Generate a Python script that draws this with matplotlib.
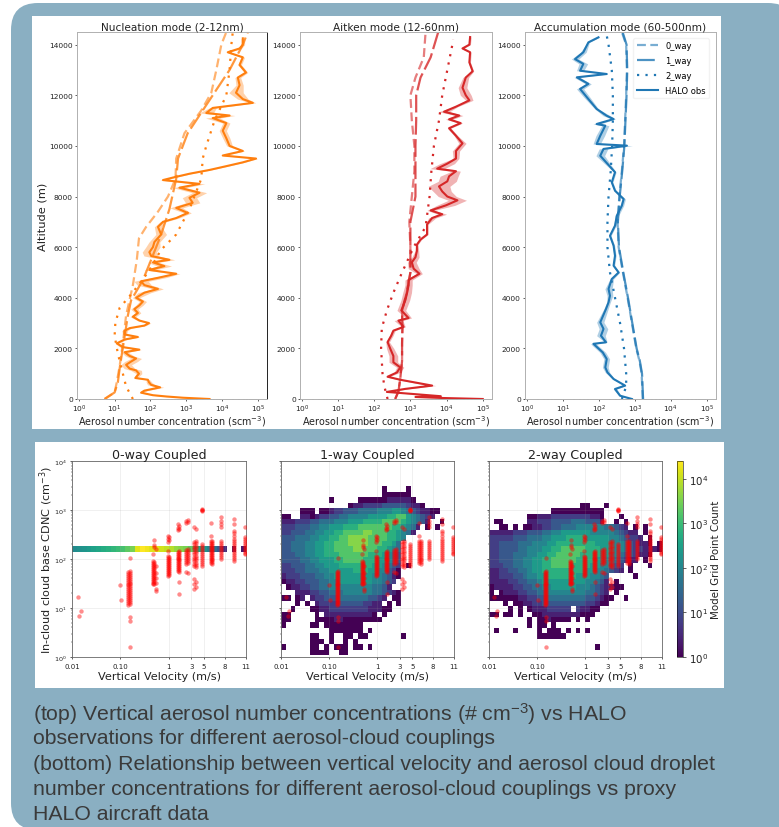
import numpy as np
import matplotlib
matplotlib.use('Agg')
import matplotlib.pyplot as plt
from matplotlib.colors import LogNorm
from matplotlib.patches import FancyBboxPatch, Rectangle

W, H = 779, 828

# ---- top row: (altitude m, log10 conc, log10 spread)
nuc_obs = [(0,3.65,.05),(50,2.91,.05),(100,2.44,.05),(150,2.07,.05),(250,1.74,.05),(330,1.83,.08),(460,2.27,.1),(560,2.02,.1),
    (660,1.96,.08),(760,1.93,.05),(830,1.58,.05),(1000,1.68,.08),(1130,1.60,.15),(1200,1.42,.15),(1350,1.32,.15),(1480,1.46,.18),
    (1600,1.60,.15),(1700,1.42,.12),(1850,1.28,.1),(1950,1.69,.05),(2050,1.23,.08),(2200,1.06,.05),(2350,1.28,.05),(2450,1.65,.05),
    (2550,1.28,.05),(2700,1.28,.08),(2800,1.42,.05),(2900,1.83,.05),(3000,1.96,.05),(3100,1.69,.05),(3250,1.51,.08),(3400,1.65,.08),
    (3550,1.55,.1),(3700,1.69,.1),(3850,1.79,.1),(4000,1.60,.1),(4200,1.83,.18),(4350,2.21,.15),(4500,1.83,.2),(4650,1.74,.2),
    (4800,2.25,.2),(4950,2.72,.1),(5100,1.97,.15),(5250,2.39,.2),(5400,2.07,.15),(5500,2.53,.15),(5650,2.02,.2),(5800,1.97,.2),
    (6000,2.07,.2),(6200,2.11,.15),(6500,2.30,.15),(6800,2.21,.1),(7000,2.35,.08),(7150,2.72,.08),(7350,3.04,.1),(7550,2.72,.18),
    (7750,3.18,.2),(7950,3.09,.2),(8150,3.37,.2),(8350,2.81,.18),(8500,3.37,.15),(8650,2.35,.08),(8750,2.63,.05),(8900,3.09,.05),
    (9050,3.65,.05),(9200,4.12,.05),(9350,4.58,.05),(9500,4.95,.05),(9620,4.02,.05),(9800,4.58,.05),(10000,4.21,.08),(10300,4.12,.1),
    (10600,4.02,.1),(10900,4.12,.1),(11100,3.74,.2),(11200,4.21,.15),(11300,3.56,.2),(11500,3.74,.1),(11700,4.86,.08),(11850,4.58,.15),
    (12100,4.39,.2),(12400,4.49,.1),(12700,4.44,.08),(12900,4.67,.05),(13200,4.49,.05),(13500,4.58,.05),(13700,4.16,.05),(13850,4.49,.05),
    (14000,4.58,.05),(14250,4.58,.05)]
nuc_0way = [(0,.72),(260,1.0),(660,1.06),(1300,1.14),(2200,1.23),(3300,1.32),(4500,1.51),(5500,1.62),(6350,1.68),(6800,1.88),
    (7400,2.21),(8000,2.49),(8700,2.70),(9500,2.72),(10500,2.95),(11400,3.42),(12100,3.70),(13000,3.84),(14000,3.98),(14500,4.12)]
nuc_1way = [(0,.72),(260,1.0),(660,1.09),(1300,1.15),(2200,1.25),(3300,1.37),(3900,1.46),(4700,1.79),(5500,2.02),(6500,2.30),
    (7500,2.53),(8700,2.72),(9500,2.77),(10500,3.04),(11400,3.46),(12300,3.88),(13000,4.21),(14000,4.58),(14500,4.72)]
nuc_2way = [(0,1.51),(500,1.32),(1000,1.23),(1800,1.09),(2500,1.0),(3000,1.02),(3600,1.14),(4200,1.5),(5000,1.93),(5900,2.3),
    (6500,2.72),(7500,3.09),(8700,3.42),(9500,3.46),(10000,3.56),(11000,3.79),(12000,4.12),(13000,4.21),(14000,4.26),(14500,4.3)]

ait_obs = [(0,5.0,.03),(40,3.88,.05),(80,3.14,.05),(110,3.84,.05),(170,3.32,.05),(280,2.35,.05),(400,2.86,.08),(530,3.60,.1),
    (650,3.14,.08),(760,2.72,.05),(880,2.37,.05),(1050,2.63,.08),(1250,2.72,.1),(1450,2.53,.12),(1700,2.53,.12),(2000,2.44,.1),
    (2250,2.37,.05),(2500,2.47,.05),(2700,2.53,.05),(2850,2.81,.05),(3100,2.67,.12),(3200,2.95,.08),(3500,2.75,.12),(3900,2.86,.12),
    (4200,2.91,.12),(4500,2.95,.1),(4700,2.95,.1),(4950,3.25,.08),(5150,3.09,.15),(5400,3.04,.12),(5600,3.14,.1),(5850,3.18,.05),
    (6100,3.18,.03),(6300,3.28,.03),(6500,3.46,.03),(6900,3.46,.03),(7150,3.60,.1),(7300,3.88,.12),(7450,3.56,.1),(7650,3.98,.25),
    (7850,4.30,.25),(8000,4.02,.25),(8200,3.88,.25),(8400,3.79,.3),(8600,4.02,.25),(8800,4.07,.25),(9000,4.26,.12),(9100,3.74,.2),
    (9300,4.02,.2),(9500,4.26,.08),(9800,4.26,.1),(10100,4.44,.1),(10400,4.26,.05),(10700,4.07,.05),(10900,4.39,.05),(11050,4.07,.1),
    (11200,4.35,.1),(11350,3.93,.15),(11550,4.26,.05),(11800,4.63,.1),(12000,4.53,.15),(12300,4.44,.12),(12700,4.53,.08),(12950,4.72,.03),
    (13300,4.63,.03),(13700,4.65,.03),(13850,4.44,.03),(14000,4.63,.03),(14300,4.65,.03)]
ait_0way = [(0,2.58),(300,2.67),(800,2.72),(1500,2.77),(2200,2.77),(2800,2.78),(3500,2.77),(4200,2.9),(5000,3.0),(6000,3.0),
    (7000,2.97),(8000,3.04),(9000,3.11),(10000,3.11),(11000,3.04),(12000,3.0),(12700,3.14),(13500,3.37),(14500,3.42)]
ait_1way = [(0,2.58),(300,2.67),(800,2.72),(1500,2.77),(2200,2.77),(2800,2.78),(3500,2.77),(4200,2.9),(5000,3.0),(6000,3.0),
    (7000,3.0),(8000,3.14),(9000,3.14),(10000,3.14),(11000,3.16),(12000,3.16),(12700,3.28),(13500,3.56),(14500,3.77)]
ait_2way = [(0,2.37),(500,2.28),(1000,2.23),(2000,2.19),(2800,2.21),(3500,2.35),(4200,2.53),(5000,2.77),(6000,3.09),(6800,3.42),
    (8000,3.53),(9000,3.58),(10000,3.65),(11000,3.79),(12000,3.88),(13000,4.02),(14000,4.16),(14200,4.18)]

acc_obs = [(0,2.92,.03),(130,2.59,.03),(395,2.45,.05),(530,2.73,.03),(790,2.41,.03),(1050,2.24,.06),(1250,2.18,.08),(1580,2.22,.08),
    (1840,2.11,.08),(2180,1.85,.08),(2240,2.2,.03),(2500,2.06,.12),(2770,2.13,.12),(3030,2.04,.1),(3560,2.2,.06),(3820,2.27,.05),
    (4080,2.31,.08),(4350,2.27,.1),(4740,2.36,.05),(5000,2.55,.03),(5270,2.41,.03),(5660,2.45,.03),(6060,2.41,.03),(6450,2.31,.03),
    (6850,2.45,.03),(7240,2.5,.05),(7640,2.64,.05),(7900,2.69,.05),(8230,2.45,.03),(8560,2.36,.03),(8960,2.45,.03),(9610,2.04,.12),
    (9880,2.13,.12),(10010,2.78,.15),(10075,1.94,.1),(10400,2.04,.12),(10800,2.18,.1),(10865,1.94,.1),(11060,2.41,.05),(11190,2.22,.1),
    (11460,1.94,.05),(11850,1.71,.08),(12250,1.48,.1),(12450,1.71,.08),(12710,1.39,.08),(12840,2.22,.03),(12970,1.48,.1),(13240,1.57,.12),
    (13430,1.34,.1),(13700,1.57,.08),(14090,1.71,.03),(14290,1.99,.03)]
acc_0way = [(0,3.22),(1000,3.19),(1500,3.13),(2000,3.04),(3000,2.92),(4000,2.8),(5000,2.67),(6000,2.55),(7000,2.52),(8000,2.57),
    (9000,2.64),(10000,2.7),(11000,2.73),(12000,2.76),(13000,2.78),(14000,2.76),(14500,2.64)]
acc_1way = [(0,3.23),(1000,3.2),(1500,3.14),(2000,3.05),(3000,2.93),(4000,2.81),(5000,2.68),(6000,2.56),(7000,2.53),(8000,2.58),
    (9000,2.65),(10000,2.71),(11000,2.74),(12000,2.77),(13000,2.79),(14000,2.77),(14500,2.66)]
acc_2way = [(0,2.64),(500,2.76),(1000,2.76),(2000,2.7),(3000,2.59),(4000,2.45),(5000,2.31),(6000,2.24),(7000,2.24),(8000,2.27),
    (9000,2.33),(10000,2.37),(11000,2.39),(12000,2.39),(13000,2.36),(14000,2.27),(14500,2.2)]

top_titles = ['Nucleation mode (2-12nm)', 'Aitken mode (12-60nm)', 'Accumulation mode (60-500nm)']
top_colors = ['tab:orange', 'tab:red', 'tab:blue']

# ---- bottom row
v_ticks = [0.01, 0.1, 1, 3, 5, 8, 11]
v_labels = ['0.01', '0.10', '1', '3', '5', '8', '11']
v_pos = [0, 1, 2, 2.47, 2.73, 3.16, 3.6]

# log10 count per bin along the single CDNC row of the 0-way run
zero_way_row = 16
zero_way_counts = [2.1,2.2,2.3,2.4,2.5,2.6,2.7,2.8,2.9,3.0,3.1,3.3,3.5,4.2,4.4,4.3,4.2,4.2,4.1,4.0,3.9,3.7,3.6,3.5,
                   3.3,3.0,2.6,2.3,1.9,1.6,1.2,0.6,np.nan,0.4,np.nan,0.3]

# one char per bin: digit d means log10(count) = 0.4*d, dot is an empty bin. top row first
one_way = ["", "", "", "", "",
    ".....................0....0",
    ".....................000000",
    "..........0.....000000111110",
    "..............0112222333332110",
    "....000.0012233344445556654321100",
    "00..1101223344555566667788654321",
    "1112223344455566677778888765431..0",
    "22233344556667778888888776541.0.0",
    "2233344556677888899888776541",
    "33344455667788999988887765",
    "3344455667788899998887764",
    "3344455667788889988877654",
    "3334455667778888887776543",
    "3333445566677888877766543",
    "2233344556667777777665432.0",
    "2223344455666667776655320",
    "1222333445566666666554310",
    "011223334455666666655432",
    ".0112233445555555554431",
    "...1112233444555555443210",
    "00.01.1223334444443321.00",
    "...0.0.12222333332211.0.0",
    "..0...00112222222211100",
    "00.....0.11111111110.0",
    "00.....00001100000000",
    "0.....00.00000000",
    "..........0000000.0",
    "......00..0..00.00.......0",
    "......000.0..0.0",
    "0.....00.0.000.00.0",
    "......0000..00",
    ""]
two_way = ["", "", "", "", "", "", "", "",
    "...................00...0",
    ".............00000000000",
    "........0011122222222110...0",
    ".00.....1122233334443331..0.0",
    "..00.0.0011223344455555544321.0.0",
    "1111122233344556666665555543211.0",
    "22222333444556667777666665543221.0",
    "2233334445556677777777666655432110.0",
    "223333445556677888887776665543221110",
    "2233344455667788888777766554332110",
    "2233344556677888887777665543211.0",
    "2223344556677888877776655432.0...0",
    "1122334456677777777766554321.0",
    "1122233455667777776665543.....0",
    "1111223344566666666655431.0",
    "0111122334455666665554321100",
    "0.01112233445555555544321.0",
    "00000011223344444444332100..0",
    "...0.00112233333333322100",
    "....0.0.011122222.21100",
    "00.00.0..0011111111000",
    "........0.0010000.0.0",
    "........0.00.0",
    ".0...0....0.000.0.0.0",
    "..........000000",
    "",
    "......................0",
    "", ""]

# proxy HALO points: vertical velocity -> log10 CDNC values
halo_columns = {
    0.013: [1.23],
    0.014: [0.83],
    0.015: [0.94],
    0.10: [1.46],
    0.105: [1.17],
    0.145: [1.74,1.70,1.66,1.62,1.58,1.54,1.50,1.46,1.42,1.38,1.34,1.30,1.26,1.22,1.18,1.14,1.10,1.06],
    0.155: [2.03,1.76,1.72,1.68,1.64,1.60,1.56,1.52,1.48,1.44,1.40,1.36,1.32,1.28,1.24,1.20,1.16,1.12,1.08,0.81,0.73,0.2],
    0.48: [2.10,1.96,1.92,1.88,1.84,1.80,1.76,1.72,1.68,1.64,1.60,1.56,1.52,1.48],
    0.5: [2.39,2.24,2.28,1.94,1.90,1.86,1.82,1.78,1.74,1.70,1.66,1.62,1.58,1.54,1.50],
    0.54: [2.20,1.85,1.72,1.62,1.51,1.38,1.35],
    0.95: [2.46,2.41,2.35,2.17,2.06,2.02,1.98,1.94,1.90,1.86,1.82,1.78,1.74,1.70,1.66],
    1.0: [2.44,2.38,2.04,2.00,1.96,1.92,1.88,1.84,1.80,1.76,1.72,1.68],
    1.55: [2.71,2.64,2.60,2.15,2.11,2.07,2.03,1.99,1.95,1.91,1.87,1.83,1.79,1.75],
    1.65: [2.68,2.62,2.17,2.13,2.09,2.05,2.01,1.97,1.93,1.89,1.85,1.81,1.77,1.73,1.53,1.29],
    2.3: [2.78,2.74,2.18,2.14,2.10,2.06,2.02,1.98,1.94,1.90,1.73],
    2.5: [2.80,2.75,2.20,2.16,2.12,2.08,2.04,2.00,1.96,1.92,1.71],
    3.35: [2.66,2.35,2.30,2.25,2.20,2.15,2.10,2.05,2.00,1.95,1.90,1.85,1.59,1.48,1.39],
    3.55: [2.61,2.37,2.32,2.27,2.22,2.17,2.12,2.07,2.02,1.97,1.92,1.87,1.83,1.54,1.43],
    4.6: [3.0,3.02,2.98,3.01,2.3,2.26,2.22,2.18,2.14,2.10,2.06,2.02,1.98,1.94,1.90,1.86],
    5.85: [2.73,2.47,2.36,2.32,2.28,2.24,2.20,2.16,2.12,2.08,2.04,2.00,1.96,1.92],
    6.05: [2.37,2.33,2.29,2.25,2.21,2.17,2.13,2.09,2.05,2.01,1.97,1.93,1.90],
    7.4: [2.85,2.78,2.72,2.66,2.37,2.33,2.29,2.25,2.21,2.17,2.13,2.09,2.05,2.0],
    9.2: [2.82,2.72,2.58,2.53,2.47,2.4,2.36,2.32,2.28,2.24,2.2,2.16,2.12,2.08,2.04,2.0,1.96],
    10.8: [2.66,2.44,2.4,2.36,2.32,2.28,2.24,2.2,2.16,2.12,2.1],
}

plt.rcParams['mathtext.default'] = 'regular'


def fwd(v):
    return np.interp(np.log10(np.maximum(v, 1e-9)), np.log10(v_ticks), v_pos)


def inv(p):
    return 10 ** np.interp(p, v_pos, np.log10(v_ticks))


def ax_px(x0, y0, x1, y1):
    return fig.add_axes([x0 / W, 1 - y1 / H, (x1 - x0) / W, (y1 - y0) / H])


def parse_rows(rows):
    out = np.full((37, 36), np.nan)
    for r, row in enumerate(rows):
        for c, ch in enumerate(row):
            if ch != '.':
                out[r, c] = 10 ** (0.4 * int(ch))
    return out


fig = plt.figure(figsize=(W / 100, H / 100), dpi=100, facecolor='white')

bg = fig.add_axes([0, 0, 1, 1])
bg.set_xlim(0, W)
bg.set_ylim(H, 0)
bg.axis('off')
bg.add_patch(FancyBboxPatch((11, 4), 784, 827, boxstyle='round,pad=0,rounding_size=27', fc='#8aafc2', ec='none'))
bg.add_patch(Rectangle((32, 17), 689, 413, fc='white', ec='none'))
bg.add_patch(Rectangle((35, 443), 689, 246, fc='white', ec='none'))

# ---- top row
top_boxes = [(77, 33, 267, 400), (300, 33, 492, 400), (525, 33, 716, 400)]
top_sets = [(nuc_obs, nuc_0way, nuc_1way, nuc_2way), (ait_obs, ait_0way, ait_1way, ait_2way),
            (acc_obs, acc_0way, acc_1way, acc_2way)]
for i, (box, sets) in enumerate(zip(top_boxes, top_sets)):
    ax = ax_px(*box)
    col = top_colors[i]
    obs = np.array(sets[0]).T
    for data, ls, name, a in zip(sets[1:], [(0, (4, 2)), (0, (8, 2)), (0, (1, 2.8))],
                                 ['0_way', '1_way', '2_way'], [0.6, 0.8, 1]):
        d = np.array(data).T
        ax.plot(10 ** d[1], d[0], color=col, lw=1.6, ls=ls, alpha=a, label=name)
    ax.fill_betweenx(obs[0], 10 ** (obs[1] - obs[2]), 10 ** (obs[1] + obs[2]), color=col, alpha=0.35, lw=0)
    ax.plot(10 ** obs[1], obs[0], color=col, lw=1.5, label='HALO obs')
    ax.set_xscale('log')
    ax.set_xlim(0.89, 1.8e5)
    ax.set_ylim(0, 14500)
    ax.set_xticks([1, 10, 100, 1000, 1e4, 1e5])
    ax.set_xticklabels(['$10^{%d}$' % k for k in range(6)])
    ax.set_yticks(range(0, 14001, 2000))
    ax.tick_params(axis='both', labelsize=5.4, length=1.5, width=0.5, pad=1.5, colors='#222222')
    ax.tick_params(axis='x', which='minor', length=1, width=0.3)
    ax.set_title(top_titles[i], fontsize=7.6, pad=1.5, color='#222222')
    ax.set_xlabel('Aerosol number concentration (scm$^{-3}$)', fontsize=6.9, labelpad=-1, color='#222222')
    for s in ['top', 'left', 'bottom', 'right']:
        ax.spines[s].set_color('#b0b0b0')
        ax.spines[s].set_linewidth(0.7)
    if i == 0:
        ax.set_ylabel('Altitude (m)', fontsize=8.2, labelpad=1, color='#222222')
        ax.spines['right'].set_color('#222222')
    if i == 2:
        ax.legend(loc='upper right', fontsize=6, frameon=True, edgecolor='#f2f2f2', framealpha=1,
                  handlelength=2.6, labelspacing=0.7, borderpad=0.4, bbox_to_anchor=(0.985, 0.995))

# ---- bottom row
norm = LogNorm(1, 2.5e4)
cmap = plt.get_cmap('viridis').copy()
cmap.set_bad((1, 1, 1, 0))
x_edges = inv(np.arange(37) * 0.1)
y_edges = 10 ** (4 + (0.35 - np.arange(38)) * 4 / 36)

zero_way = np.full((37, 36), np.nan)
zero_way[zero_way_row] = 10 ** np.array(zero_way_counts)
grids = [zero_way, parse_rows(one_way), parse_rows(two_way)]
bot_boxes = [(72, 462, 246, 658), (281, 462, 454, 658), (489, 462, 662, 658)]
bot_titles = ['0-way Coupled', '1-way Coupled', '2-way Coupled']

for i, (box, grid) in enumerate(zip(bot_boxes, grids)):
    ax = ax_px(*box)
    ax.set_xscale('function', functions=(fwd, inv))
    ax.set_yscale('log')
    ax.pcolormesh(x_edges, y_edges, np.ma.masked_invalid(grid), cmap=cmap, norm=norm, linewidth=0, rasterized=True)
    for v, vals in halo_columns.items():
        ax.scatter([v] * len(vals), 10 ** np.array(vals), s=10, color='red', alpha=0.45, lw=0, zorder=3)
    ax.set_xlim(0.01, 11)
    ax.set_ylim(1, 1e4)
    ax.set_xticks(v_ticks)
    ax.set_xticklabels(v_labels)
    ax.xaxis.set_minor_locator(plt.NullLocator())
    ax.set_yticks([1, 10, 100, 1000, 1e4])
    ax.grid(True, color='#999999', alpha=0.15, lw=0.7)
    ax.tick_params(axis='x', labelsize=5, length=1.5, width=0.5, pad=2.5, colors='#222222')
    ax.tick_params(axis='y', labelsize=4.6, length=1.5, width=0.5, pad=2.5, colors='#222222')
    ax.tick_params(axis='y', which='minor', length=1, width=0.3)
    ax.set_title(bot_titles[i], fontsize=9.1, pad=2, color='#222222')
    ax.set_xlabel('Vertical Velocity (m/s)', fontsize=8.1, labelpad=1.5, color='#222222')
    if i == 0:
        ax.set_ylabel('In-cloud cloud base CDNC (cm$^{-3}$)', fontsize=8.1, labelpad=-1, color='#222222')
        ax.set_yticklabels(['$10^{%d}$' % k for k in range(5)])
    else:
        ax.set_yticklabels([])
    for s in ax.spines.values():
        s.set_color('#666666')
        s.set_linewidth(0.6)

cax = ax_px(677, 462, 683, 658)
sm = plt.cm.ScalarMappable(norm=norm, cmap='viridis')
cb = fig.colorbar(sm, cax=cax)
cb.set_ticks([1, 10, 100, 1000, 1e4])
cb.ax.minorticks_off()
cb.ax.tick_params(labelsize=7.4, length=2, width=0.5, pad=2, colors='#222222')
cb.set_label('Model Grid Point Count', fontsize=7.4, labelpad=2, color='#222222')
cb.outline.set_linewidth(0.4)

# ---- caption
caption = [('(top) Vertical aerosol number concentrations (# cm$^{-3}$) vs HALO', 714),
           ('observations for different aerosol-cloud couplings', 739),
           ('(bottom) Relationship between vertical velocity and aerosol cloud droplet', 765),
           ('number concentrations for different aerosol-cloud couplings vs proxy', 790),
           ('HALO aircraft data', 815)]
plt.rcParams['mathtext.fontset'] = 'custom'
plt.rcParams['mathtext.rm'] = 'Liberation Sans'
for line, y in caption:
    fig.text(33 / W, 1 - y / H, line, fontsize=15.3, family='Liberation Sans', color='#3a3a3a', va='center')

fig.savefig('out.png', dpi=100)
